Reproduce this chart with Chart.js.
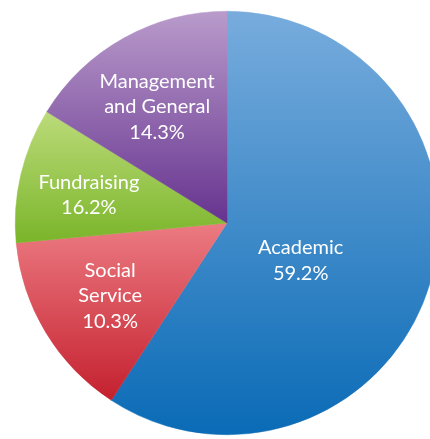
<!DOCTYPE html>
<html>
<head>
<meta charset="utf-8">
<script src="https://cdn.jsdelivr.net/npm/chart.js@4/dist/chart.umd.min.js"></script>
<style>
  html, body { margin: 0; padding: 0; background: #fff; overflow: hidden; }
  #wrap { position: absolute; left: 0; top: 0; }
</style>
</head>
<body>
<div id="wrap"><canvas id="pie" width="454" height="439"></canvas></div>
<script>
// Slice sizes as drawn in the picture (clockwise from 12 o'clock)
const categories = ['Academic', 'Social Service', 'Fundraising', 'Management and General'];
const sliceValues = [59.2, 14.3, 10.3, 16.2];
// Percent text printed on each slice
const shownPercents = ['59.2%', '10.3%', '16.2%', '14.3%'];
const labelLines = [['Academic'], ['Social', 'Service'], ['Fundraising'], ['Management', 'and General']];

// Styling
const topColors = ['#78acdd', '#ec7b82', '#bcdb7a', '#b99bcb'];
const bottomColors = ['#0a6bb6', '#c4202e', '#7ab52a', '#66338f'];
// label spot: angle (deg, clockwise from top), fraction of radius
const labelSpots = [[117, 0.39], [238, 0.65], [281.5, 0.665], [329, 0.64]];

function pieGeometry(chart) {
    const a = chart.chartArea;
    return {
        cx: (a.left + a.right) / 2,
        cy: (a.top + a.bottom) / 2,
        r: Math.min(a.right - a.left, a.bottom - a.top) / 2
    };
}

function sliceGradient(c) {
    const i = c.dataIndex;
    const chart = c.chart;
    if (!chart.chartArea) return bottomColors[i];
    const g = pieGeometry(chart);
    const total = sliceValues.reduce((s, v) => s + v, 0);
    const before = sliceValues.slice(0, i).reduce((s, v) => s + v, 0);
    const start = -Math.PI / 2 + before / total * Math.PI * 2;
    const end = start + sliceValues[i] / total * Math.PI * 2;
    const ys = [g.cy, g.cy + g.r * Math.sin(start), g.cy + g.r * Math.sin(end)];
    if (start <= Math.PI / 2 && end >= Math.PI / 2) ys.push(g.cy + g.r);
    if (start <= -Math.PI / 2 + 1e-6 || end >= Math.PI * 1.5 - 1e-6) ys.push(g.cy - g.r);
    const minY = Math.min(...ys), maxY = Math.max(...ys);
    const grad = chart.ctx.createLinearGradient(0, minY, 0, maxY);
    grad.addColorStop(0, topColors[i]);
    grad.addColorStop(1, bottomColors[i]);
    return grad;
}

const sliceLabels = {
    id: 'sliceLabels',
    afterDatasetsDraw(chart) {
        const ctx = chart.ctx;
        const g = pieGeometry(chart);
        ctx.save();
        ctx.fillStyle = '#ffffff';
        ctx.font = '20px Lato, "Open Sans", sans-serif';
        ctx.textAlign = 'center';
        ctx.textBaseline = 'middle';
        const lineH = 25.5;
        labelSpots.forEach((spot, i) => {
            const ang = spot[0] * Math.PI / 180;
            const x = g.cx + Math.sin(ang) * g.r * spot[1];
            const y = g.cy - Math.cos(ang) * g.r * spot[1];
            const lines = labelLines[i].concat([shownPercents[i]]);
            const y0 = y - (lines.length - 1) * lineH / 2;
            lines.forEach((t, k) => ctx.fillText(t, x, y0 + k * lineH));
        });
        ctx.restore();
    }
};

new Chart(document.getElementById('pie'), {
    type: 'pie',
    data: {
        labels: categories,
        datasets: [{
            data: sliceValues,
            backgroundColor: sliceGradient,
            borderColor: sliceGradient,
            borderWidth: 0.5
        }]
    },
    options: {
        responsive: false,
        animation: false,
        layout: { padding: { left: 15, right: 15, top: 11, bottom: 4 } },
        plugins: {
            legend: { display: false },
            tooltip: { enabled: false }
        }
    },
    plugins: [sliceLabels]
});
</script>
</body>
</html>
